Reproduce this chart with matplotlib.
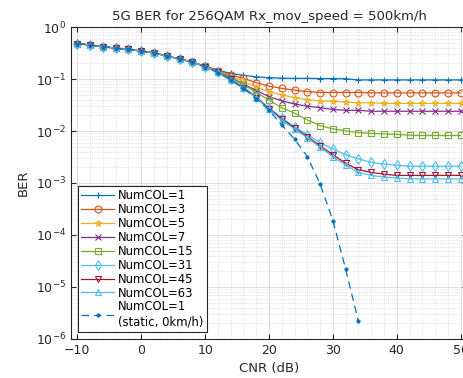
import matplotlib
matplotlib.use("Agg")
import matplotlib.pyplot as plt
from matplotlib.ticker import MultipleLocator, LogLocator, NullFormatter

# CNR grid (dB)
cnr = list(range(-10, 51, 2))
cnr_static = list(range(-10, 35, 2))

ber_col1 = [0.48, 0.45, 0.42, 0.39, 0.37, 0.345, 0.32, 0.275, 0.245, 0.21, 0.178,
            0.148, 0.128, 0.118, 0.110, 0.106, 0.104, 0.103, 0.103, 0.102, 0.102,
            0.101, 0.096, 0.096, 0.096, 0.096, 0.096, 0.096, 0.096, 0.096, 0.096]
ber_col3 = [0.48, 0.45, 0.42, 0.39, 0.37, 0.345, 0.32, 0.275, 0.245, 0.21, 0.176,
            0.145, 0.120, 0.103, 0.085, 0.073, 0.066, 0.061, 0.057, 0.055, 0.055,
            0.055, 0.055, 0.054, 0.054, 0.054, 0.054, 0.054, 0.054, 0.054, 0.054]
ber_col5 = [0.48, 0.45, 0.42, 0.39, 0.37, 0.345, 0.32, 0.275, 0.245, 0.21, 0.175,
            0.142, 0.115, 0.090, 0.070, 0.057, 0.049, 0.044, 0.040, 0.038, 0.037,
            0.036, 0.035, 0.035, 0.034, 0.034, 0.034, 0.034, 0.034, 0.034, 0.034]
ber_col7 = [0.48, 0.45, 0.42, 0.39, 0.37, 0.345, 0.32, 0.275, 0.245, 0.21, 0.174,
            0.140, 0.108, 0.080, 0.060, 0.046, 0.038, 0.033, 0.030, 0.028, 0.026,
            0.025, 0.025, 0.024, 0.024, 0.024, 0.024, 0.024, 0.024, 0.024, 0.024]
ber_col15 = [0.48, 0.45, 0.42, 0.39, 0.37, 0.345, 0.32, 0.275, 0.245, 0.21, 0.173,
             0.138, 0.105, 0.078, 0.055, 0.0395, 0.028, 0.022, 0.0163, 0.0127, 0.011,
             0.0101, 0.0093, 0.009, 0.0088, 0.0086, 0.0083, 0.0082, 0.0082, 0.0082, 0.0082]
ber_col31 = [0.48, 0.45, 0.42, 0.39, 0.37, 0.345, 0.32, 0.275, 0.245, 0.21, 0.172,
             0.136, 0.100, 0.070, 0.045, 0.028, 0.018, 0.012, 0.0085, 0.006, 0.0045,
             0.0035, 0.0029, 0.0025, 0.0023, 0.0022, 0.0021, 0.0021, 0.0021, 0.0021, 0.0021]
ber_col45 = [0.48, 0.45, 0.42, 0.39, 0.37, 0.345, 0.32, 0.275, 0.245, 0.21, 0.172,
             0.135, 0.098, 0.068, 0.044, 0.027, 0.017, 0.0115, 0.0078, 0.0052, 0.0035,
             0.0024, 0.0018, 0.0016, 0.00148, 0.0014, 0.0014, 0.0014, 0.0014, 0.0014, 0.0014]
ber_col63 = [0.48, 0.45, 0.42, 0.39, 0.37, 0.345, 0.32, 0.275, 0.245, 0.21, 0.172,
             0.135, 0.097, 0.067, 0.043, 0.026, 0.016, 0.011, 0.0074, 0.0049, 0.0032,
             0.0022, 0.0016, 0.0014, 0.0013, 0.00125, 0.0012, 0.0012, 0.0012, 0.0012, 0.0012]
ber_static = [0.48, 0.45, 0.42, 0.39, 0.37, 0.345, 0.32, 0.275, 0.245, 0.21, 0.172,
              0.133, 0.096, 0.066, 0.042, 0.025, 0.013, 0.007, 0.0032, 0.00096, 0.00019,
              2.2e-5, 2.2e-6]

series = [
    ("NumCOL=1", ber_col1, "#0072BD", "+"),
    ("NumCOL=3", ber_col3, "#D95319", "o"),
    ("NumCOL=5", ber_col5, "#EDB120", "*"),
    ("NumCOL=7", ber_col7, "#7E2F8E", "x"),
    ("NumCOL=15", ber_col15, "#77AC30", "s"),
    ("NumCOL=31", ber_col31, "#4DBEEE", "d"),
    ("NumCOL=45", ber_col45, "#A2142F", "v"),
    ("NumCOL=63", ber_col63, "#4DBEEE", "^"),
]

plt.rcParams["font.family"] = "DejaVu Sans"
fig = plt.figure(figsize=(4.64, 3.78), dpi=100)
ax = fig.add_axes([71 / 464, 39 / 378, 396 / 464, 312 / 378])

for name, vals, color, marker in series:
    ax.semilogy(cnr, vals, color=color, marker=marker, markersize=5,
                markerfacecolor="none", markeredgewidth=0.8, linewidth=0.9,
                label=name)
ax.semilogy(cnr_static, ber_static, color="#0072BD", linestyle=(0, (6, 4)),
            marker=".", markersize=4, linewidth=0.9,
            label="NumCOL=1\n(static, 0km/h)")

ax.set_xlim(-11, 51)
ax.set_ylim(1e-6, 1)
ax.xaxis.set_major_locator(MultipleLocator(10))
ax.xaxis.set_minor_locator(MultipleLocator(2))
ax.yaxis.set_major_locator(LogLocator(base=10, numticks=10))
ax.yaxis.set_minor_locator(LogLocator(base=10, subs=range(2, 10), numticks=20))
ax.yaxis.set_minor_formatter(NullFormatter())

ax.grid(True, which="major", color="#d9d9d9", linewidth=0.6)
ax.grid(True, which="minor", color="#c8c8c8", linewidth=0.5, linestyle=(0, (1, 2)))
ax.set_axisbelow(True)
ax.tick_params(which="both", direction="in", top=True, right=True,
               labelsize=9, colors="#262626")
ax.tick_params(which="minor", length=0)
for sp in ax.spines.values():
    sp.set_color("#262626")
    sp.set_linewidth(0.8)

ax.set_title("5G BER for 256QAM Rx_mov_speed = 500km/h", fontsize=9.5,
             color="#262626", pad=5)
ax.set_xlabel("CNR (dB)", fontsize=9.5, color="#262626")
ax.set_ylabel("BER", fontsize=9.5, color="#262626")

leg = ax.legend(loc="lower left", fontsize=8.4, handlelength=2.8,
                labelspacing=0.08, borderaxespad=0.6, fancybox=False,
                framealpha=1, edgecolor="#262626", borderpad=0.3,
                handletextpad=0.3)
leg.get_frame().set_linewidth(0.8)

fig.savefig("out.png", dpi=100)
